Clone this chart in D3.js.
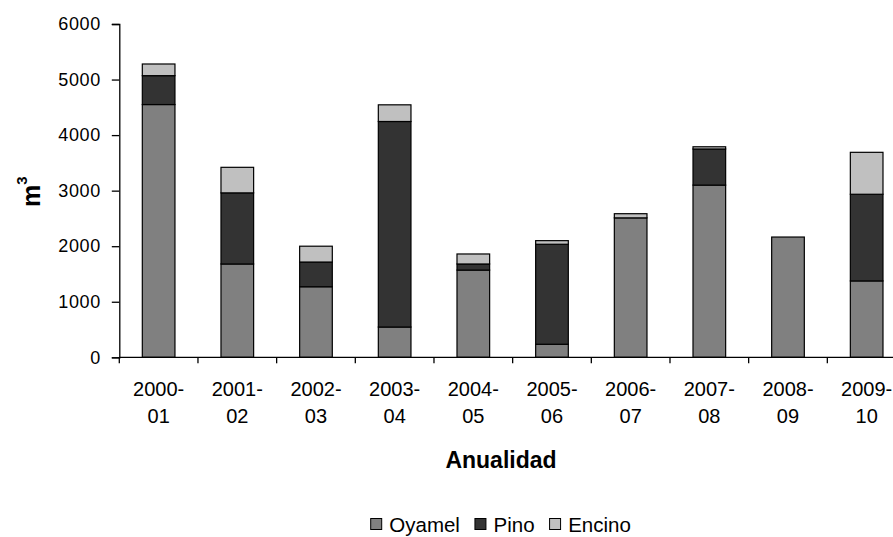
<!DOCTYPE html>
<html>
<head>
<meta charset="utf-8">
<script src="https://cdn.jsdelivr.net/npm/d3@7"></script>
<style>
  html, body { margin: 0; padding: 0; background: #fff; }
  svg { display: block; font-family: "Liberation Sans", Arial, sans-serif; }
</style>
</head>
<body>
<svg id="chart" width="893" height="537"></svg>
<script>
// Annual harvested volume (m³) by species
const periods = ["2000-01","2001-02","2002-03","2003-04","2004-05","2005-06","2006-07","2007-08","2008-09","2009-10"];
const oyamel = [4550, 1680, 1270, 545, 1570, 235, 2510, 3100, 2165, 1375];
const pino   = [520, 1280, 445, 3700, 110, 1800, 0, 650, 0, 1560];
const encino = [210, 460, 285, 300, 180, 65, 75, 40, 0, 755];
const seriesNames = ["Oyamel", "Pino", "Encino"];
const seriesColors = ["#808080", "#333333", "#c0c0c0"];
const yTicks = [0, 1000, 2000, 3000, 4000, 5000, 6000];

const rows = periods.map((p, i) => ({ period: p, Oyamel: oyamel[i], Pino: pino[i], Encino: encino[i] }));
const stacked = d3.stack().keys(seriesNames)(rows);

const svg = d3.select("#chart");
const plotLeft = 119.3, plotRight = 906, plotTop = 24, plotBottom = 357.3;

const x = d3.scaleBand().domain(periods).range([plotLeft, plotRight]).padding(0);
const y = d3.scaleLinear().domain([0, 6000]).range([plotBottom, plotTop]);
const barW = x.bandwidth() * 0.415;

// stacked bars
svg.append("g").selectAll("g")
  .data(stacked)
  .join("g")
  .attr("fill", (d, i) => seriesColors[i])
  .selectAll("rect")
  .data(d => d.filter(s => s[1] - s[0] > 0))
  .join("rect")
  .attr("x", d => x(d.data.period) + (x.bandwidth() - barW) / 2)
  .attr("y", d => y(d[1]))
  .attr("width", barW)
  .attr("height", d => y(d[0]) - y(d[1]))
  .attr("stroke", "#000")
  .attr("stroke-width", 1.2);

// y axis
const yAxis = svg.append("g")
  .attr("transform", `translate(${plotLeft},0)`)
  .call(d3.axisLeft(y).tickValues(yTicks).tickSize(7.5).tickPadding(11).tickFormat(d3.format("d")));
yAxis.select(".domain").attr("stroke", "#000").attr("stroke-width", 1.3);
yAxis.selectAll(".tick line").attr("stroke", "#000").attr("stroke-width", 1.3);
yAxis.selectAll(".tick text")
  .attr("font-size", 18).attr("letter-spacing", 0.6).attr("fill", "#000")
  .attr("font-family", "Liberation Sans, Arial, sans-serif");

// x axis: category boundary ticks, two-line labels
const xg = svg.append("g");
xg.append("line")
  .attr("x1", plotLeft).attr("x2", plotRight)
  .attr("y1", plotBottom).attr("y2", plotBottom)
  .attr("stroke", "#000").attr("stroke-width", 1.3);
xg.selectAll("line.tk")
  .data(periods)
  .join("line")
  .attr("class", "tk")
  .attr("x1", d => x(d)).attr("x2", d => x(d))
  .attr("y1", plotBottom).attr("y2", plotBottom + 6)
  .attr("stroke", "#000").attr("stroke-width", 1.3);
const lbl = xg.selectAll("text")
  .data(periods)
  .join("text")
  .attr("text-anchor", "middle")
  .attr("font-size", 20)
  .attr("fill", "#000")
  .attr("transform", d => `translate(${x(d) + x.bandwidth() / 2},0)`);
lbl.append("tspan").attr("x", 0).attr("y", 396).text(d => d.split("-")[0] + "-");
lbl.append("tspan").attr("x", 0).attr("y", 423).text(d => d.split("-")[1]);

// axis titles
svg.append("text")
  .attr("x", 501).attr("y", 468)
  .attr("text-anchor", "middle")
  .attr("font-size", 23).attr("font-weight", "bold")
  .text("Anualidad");

const yt = svg.append("text")
  .attr("transform", "translate(40,207) rotate(-90)")
  .attr("text-anchor", "start")
  .attr("font-size", 25).attr("font-weight", "bold");
yt.append("tspan").text("m");
yt.append("tspan").attr("font-size", 15).attr("dy", -13).text("3");

// legend: swatch, label, then next item
const lg = svg.append("g");
let lx = 370.7;
seriesNames.forEach((name, i) => {
  lg.append("rect")
    .attr("x", lx).attr("y", 518.5)
    .attr("width", 11).attr("height", 11)
    .attr("fill", seriesColors[i])
    .attr("stroke", "#000").attr("stroke-width", 1);
  const t = lg.append("text")
    .attr("x", lx + 18.6).attr("y", 531.5)
    .attr("font-size", 20.5)
    .text(name);
  lx += 18.6 + t.node().getComputedTextLength() + 15;
});
</script>
</body>
</html>
